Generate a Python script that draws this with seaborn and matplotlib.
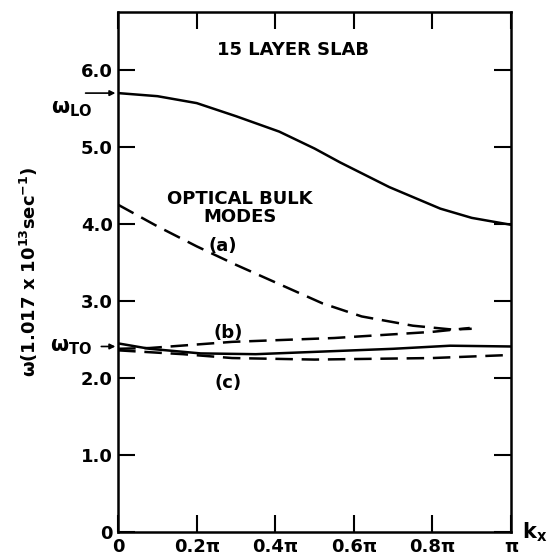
import matplotlib
matplotlib.use("Agg")
import matplotlib.pyplot as plt
import seaborn as sns
import pandas as pd

# data (x in units of pi)
lo_x = [0, 0.1, 0.2, 0.3, 0.41, 0.5, 0.565, 0.69, 0.82, 0.9, 1.0]
lo_y = [5.70, 5.66, 5.57, 5.40, 5.20, 4.98, 4.80, 4.48, 4.20, 4.08, 3.99]
a_x = [0, 0.1, 0.2, 0.3, 0.41, 0.52, 0.62, 0.75, 0.85, 0.90]
a_y = [4.25, 3.97, 3.71, 3.47, 3.22, 2.97, 2.80, 2.68, 2.63, 2.64]
to_x = [0, 0.08, 0.21, 0.35, 0.55, 0.7, 0.845, 1.0]
to_y = [2.45, 2.38, 2.32, 2.31, 2.35, 2.38, 2.42, 2.41]
b_x = [0, 0.08, 0.29, 0.55, 0.80, 0.895]
b_y = [2.38, 2.39, 2.47, 2.52, 2.60, 2.65]
c_x = [0, 0.165, 0.29, 0.5, 0.8, 1.0]
c_y = [2.36, 2.31, 2.26, 2.24, 2.26, 2.30]

xticks = [0, 0.2, 0.4, 0.6, 0.8, 1.0]
xticklabels = ["0", "0.2π", "0.4π", "0.6π", "0.8π", "π"]
yticks = [0, 1, 2, 3, 4, 5, 6]
yticklabels = ["0", "1.0", "2.0", "3.0", "4.0", "5.0", "6.0"]

sns.set_style("ticks")
plt.rcParams['font.family'] = ['DejaVu Sans']
plt.rcParams['font.weight'] = 'bold'
plt.rcParams['text.color'] = 'black'
plt.rcParams['axes.labelcolor'] = 'black'
plt.rcParams['xtick.color'] = 'black'
plt.rcParams['ytick.color'] = 'black'
plt.rcParams['axes.edgecolor'] = 'black'

fig = plt.figure(figsize=(5.6, 5.56), dpi=100)
ax = fig.add_axes([0.211, 0.043, 0.7015, 0.935])

lw = 1.8
sns.lineplot(data=pd.DataFrame({"x": lo_x, "y": lo_y}), x="x", y="y", ax=ax,
             color="black", lw=lw)
sns.lineplot(data=pd.DataFrame({"x": to_x, "y": to_y}), x="x", y="y", ax=ax,
             color="black", lw=lw)
for xs, ys in [(a_x, a_y), (b_x, b_y), (c_x, c_y)]:
    sns.lineplot(data=pd.DataFrame({"x": xs, "y": ys}), x="x", y="y", ax=ax,
                 color="black", lw=lw, dashes=False, linestyle=(0, (7, 3.5)))

ax.set_xlim(0, 1.0)
ax.set_ylim(0, 6.75)
ax.set_xticks(xticks)
ax.set_xticklabels(xticklabels)
ax.set_yticks(yticks)
ax.set_yticklabels(yticklabels)
ax.tick_params(direction="in", length=12, width=1.5, labelsize=13,
               top=True, right=True, pad=4, colors="black")
ax.tick_params(axis="x", labeltop=False)
ax.tick_params(axis="y", labelright=False)
for s in ax.spines.values():
    s.set_linewidth(1.8)
    s.set_color("black")
ax.set_xlabel("")
ax.set_ylabel("ω(1.017 x 10$^{\\mathbf{13}}$sec$^{\\mathbf{-1}}$)", fontsize=13,
              fontweight="bold")
ax.yaxis.set_label_coords(-0.2, 0.5)

fw = dict(fontweight="bold", color="black")
ax.text(0.445, 6.26, "15 LAYER SLAB", ha="center", va="center", fontsize=13, **fw)
ax.text(0.31, 4.21, "OPTICAL BULK\nMODES", ha="center", va="center",
        fontsize=13, linespacing=1.0, **fw)
ax.text(0.265, 3.71, "(a)", ha="center", va="center", fontsize=13, **fw)
ax.text(0.28, 2.58, "(b)", ha="center", va="center", fontsize=13, **fw)
ax.text(0.28, 1.94, "(c)", ha="center", va="center", fontsize=13, **fw)

# omega labels and arrows outside the axis
ax.annotate("", xy=(0, 5.70), xytext=(-0.09, 5.70), annotation_clip=False,
            arrowprops=dict(arrowstyle="-|>", color="black", lw=1.2,
                            mutation_scale=8))
ax.text(-0.117, 5.50, "ω$_{\\mathbf{LO}}$", ha="center", va="center",
        fontsize=15, clip_on=False, **fw)
ax.annotate("", xy=(0, 2.41), xytext=(-0.05, 2.41), annotation_clip=False,
            arrowprops=dict(arrowstyle="-|>", color="black", lw=1.2,
                            mutation_scale=8))
ax.text(-0.12, 2.40, "ω$_{\\mathbf{TO}}$", ha="center", va="center",
        fontsize=15, clip_on=False, **fw)
ax.text(1.06, 0.0, "k$_{\\mathbf{x}}$", ha="center", va="center",
        fontsize=15, clip_on=False, **fw)

fig.savefig("out.png", dpi=100)
